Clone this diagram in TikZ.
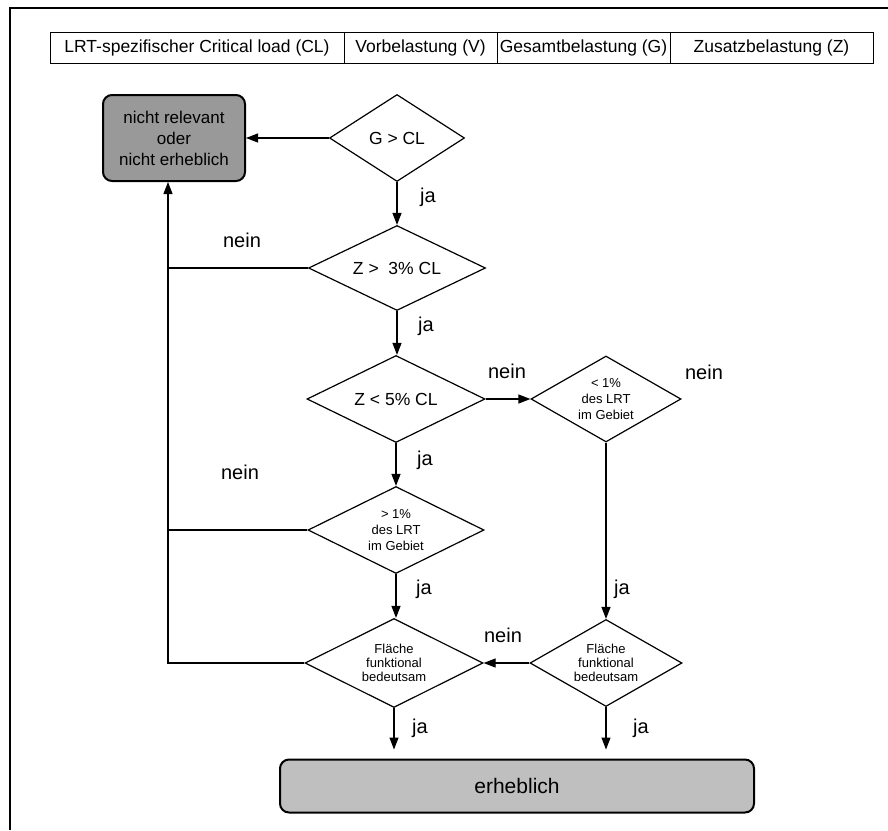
\documentclass[tikz,border=0pt]{standalone}
\usepackage{fontspec}
\setmainfont{Liberation Sans}
\usetikzlibrary{shapes.geometric,arrows.meta}

\colorlet{relev}{black!40}
\colorlet{erheb}{black!25}
\tikzset{
  cell/.style={draw,line width=0.9pt,inner sep=0pt,minimum height=31pt,
    font=\fontsize{17.5}{20}\selectfont},
  decide/.style={diamond,draw,line width=1.2pt,inner sep=0pt,aspect=1.8,
    font=\fontsize{17.5}{20}\selectfont},
  small/.style={align=center,font=\fontsize{13}{16}\selectfont},
  result/.style={rectangle,rounded corners=9pt,draw,line width=2pt,align=center},
  answer/.style={font=\fontsize{20}{24}\selectfont},
  flow/.style={-{Triangle[length=12pt,width=9pt]},line width=1.2pt},
}

\begin{document}
\begin{tikzpicture}[x=1pt,y=-1pt]
    \useasboundingbox (0,0) rectangle (888,830);
    \draw [line width=1.5pt] (10,830) -- (10,8) -- (888,8);

    % header row
    \foreach \x/\w/\t [count=\i] in {197/294/LRT-spezifischer Critical load (CL),
      420.5/153/Vorbelastung (V),583.5/173/Gesamtbelastung (G),
      771.5/203/Zusatzbelastung (Z)}
      \node [cell,minimum width=\w pt] (h\i) at (\x,47.5) {\t} ;

    \node [result,fill=relev,minimum width=142pt,minimum height=86pt,
      font=\fontsize{17}{21}\selectfont]
      (nr) at (174,138) {nicht relevant\\oder\\nicht erheblich} ;
    \coordinate (back) at ([xshift=-6pt]nr.south) ;

    \node [decide,minimum width=135pt,minimum height=87pt] (gcl) at (397,138) {G > CL} ;
    \node [decide,minimum width=177pt,minimum height=85pt] (z3) at (397,268) {Z >\ \ 3\% CL} ;
    \node [decide,minimum width=178pt,minimum height=87pt] (z5) at (396,399) {Z < 5\% CL} ;
    \node [decide,small,minimum width=150pt,minimum height=86pt]
      (lt1) at (606,399) {< 1\%\\des LRT\\im Gebiet} ;
    \node [decide,small,minimum width=176pt,minimum height=87pt]
      (gt1) at (396,530) {> 1\%\\des LRT\\im Gebiet} ;
    \node [decide,small,font=\fontsize{13}{14}\selectfont,minimum width=178pt,minimum height=89pt]
      (fl) at (394,663) {Fläche\\funktional\\bedeutsam} ;
    \node [decide,small,font=\fontsize{13}{14}\selectfont,minimum width=152pt,minimum height=87pt]
      (fr) at (606,663) {Fläche\\funktional\\bedeutsam} ;
    \node [result,fill=erheb,minimum width=474pt,minimum height=53pt,
      font=\fontsize{21}{24}\selectfont] (erh) at (517,786) {erheblich} ;

    \draw [flow] (gcl.west) -- (nr.east) ;
    \draw [flow] (gcl.south) -- (gcl.south |- z3.north) ;
    \draw [flow] (z3.south) -- (z3.south |- z5.north) ;
    \draw [flow] (z5.east) -- (lt1.west) ;
    \draw [flow] (z5.south) -- (z5.south |- gt1.north) ;
    \draw [flow] (gt1.south) -- (gt1.south |- fl.north) ;
    \draw [flow] (lt1.south) -- (fr.north) ;
    \draw [flow] (fr.west) -- (fl.east) ;
    \draw [flow] (fl.west) -| (back) ;
    \draw [line width=1.2pt] (z3.west) -- (z3.west -| back) ;
    \draw [line width=1.2pt] (gt1.west) -- (gt1.west -| back) ;
    \draw [flow,shorten >=9pt] (fl.south) -- (fl.south |- erh.north) ;
    \draw [flow,shorten >=9pt] (fr.south) -- (fr.south |- erh.north) ;

    \node (ja1) at (428,197) [answer] {ja} ;
    \node (nein1) at (242,240) [answer] {nein} ;
    \node (ja2) at (426,326) [answer] {ja} ;
    \node (nein2) at (507,371) [answer] {nein} ;
    \node (nein3) at (704,372) [answer] {nein} ;
    \node (ja3) at (425,460) [answer] {ja} ;
    \node (nein4) at (240,472) [answer] {nein} ;
    \node (ja4) at (424,589) [answer] {ja} ;
    \node (ja5) at (622,589) [answer] {ja} ;
    \node (nein5) at (503,635) [answer] {nein} ;
    \node (ja6) at (420,728) [answer] {ja} ;
    \node (ja7) at (641,728) [answer] {ja} ;
\end{tikzpicture}
\end{document}
